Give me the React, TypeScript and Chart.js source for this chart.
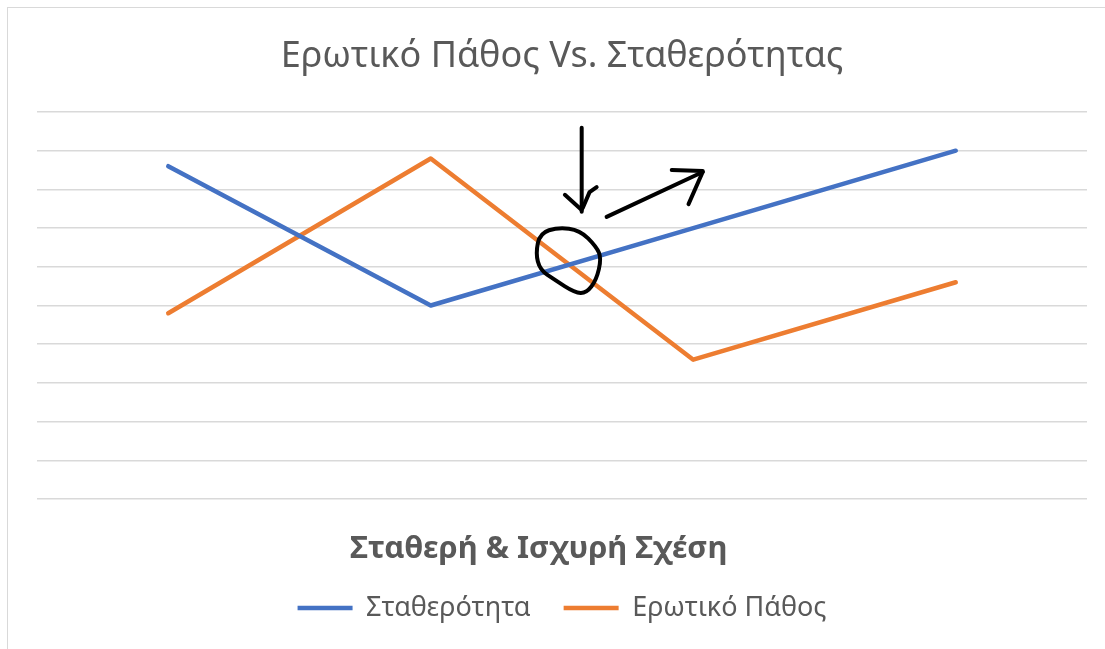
import React, { useEffect, useRef } from "react";
import { Chart, registerables } from "chart.js";

Chart.register(...registerables);

// ---- data ----
const categories = ["1", "2", "3", "4"];
const stabilityValues = [8.6, 5.0, 7.0, 9.0];
const passionValues = [4.8, 8.8, 3.6, 5.6];
const seriesNames = ["Σταθερότητα", "Ερωτικό Πάθος"];
const chartTitle = "Ερωτικό Πάθος Vs. Σταθερότητας";
const xAxisTitle = "Σταθερή & Ισχυρή Σχέση";
const yMin = 0;
const yMax = 10;
const yStep = 1;

// hand-drawn ink strokes, expressed as [category index, value] pairs
const downArrowShaft = [[1.575, 9.59], [1.575, 7.42]];
const downArrowLeft = [[1.511, 7.86], [1.575, 7.47]];
const downArrowRight = [[1.632, 8.06], [1.605, 7.93], [1.579, 7.52]];
const rightArrowShaft = [[1.67, 7.29], [2.036, 8.45]];
const rightArrowTop = [[1.918, 8.5], [2.036, 8.475]];
const rightArrowBottom = [[2.036, 8.45], [1.982, 7.62]];
const inkCircle = [
  [1.416, 6.87], [1.485, 7.02], [1.568, 6.95], [1.631, 6.52], [1.65, 6.22],
  [1.631, 5.66], [1.593, 5.32], [1.549, 5.33], [1.473, 5.66], [1.416, 5.92], [1.4, 6.35],
];

const FONT = "'Noto Sans', 'Open Sans', sans-serif";
const GREY = "#595959";

const inkPlugin = {
  id: "inkStrokes",
  afterDatasetsDraw(chart: any) {
    const { ctx, scales } = chart;
    const xs = scales.x;
    const ys = scales.y;
    const toPx = (p: number[]) => [xs.getPixelForValue(p[0]), ys.getPixelForValue(p[1])];
    ctx.save();
    ctx.strokeStyle = "#000000";
    ctx.lineWidth = 4;
    ctx.lineCap = "round";
    ctx.lineJoin = "round";
    const strokes = [downArrowShaft, downArrowLeft, downArrowRight, rightArrowShaft, rightArrowTop, rightArrowBottom];
    for (const s of strokes) {
      ctx.beginPath();
      s.forEach((p, k) => {
        const [px, py] = toPx(p);
        if (k === 0) ctx.moveTo(px, py);
        else ctx.lineTo(px, py);
      });
      ctx.stroke();
    }
    // smooth closed loop
    const pts = inkCircle.map(toPx);
    const n = pts.length;
    ctx.beginPath();
    const mid = (a: number[], b: number[]) => [(a[0] + b[0]) / 2, (a[1] + b[1]) / 2];
    const m0 = mid(pts[n - 1], pts[0]);
    ctx.moveTo(m0[0], m0[1]);
    for (let i = 0; i < n; i++) {
      const p = pts[i];
      const m = mid(p, pts[(i + 1) % n]);
      ctx.quadraticCurveTo(p[0], p[1], m[0], m[1]);
    }
    ctx.closePath();
    ctx.stroke();
    ctx.restore();
  },
};

export default function App() {
  const canvasRef = useRef<HTMLCanvasElement | null>(null);

  useEffect(() => {
    if (!canvasRef.current) return;
    const chart = new Chart(canvasRef.current, {
      type: "line",
      data: {
        labels: categories,
        datasets: [
          {
            label: seriesNames[0],
            data: stabilityValues,
            borderColor: "#4472C4",
            backgroundColor: "#4472C4",
            borderWidth: 4.5,
            borderCapStyle: "round",
            borderJoinStyle: "round",
            pointRadius: 0,
            tension: 0,
          },
          {
            label: seriesNames[1],
            data: passionValues,
            borderColor: "#ED7D31",
            backgroundColor: "#ED7D31",
            borderWidth: 4.5,
            borderCapStyle: "round",
            borderJoinStyle: "round",
            pointRadius: 0,
            tension: 0,
          },
        ],
      },
      options: {
        animation: false,
        responsive: false,
        layout: { padding: { left: 29, right: 18, top: 10, bottom: 17.5 } },
        plugins: {
          title: {
            display: true,
            text: chartTitle,
            color: GREY,
            font: { family: FONT, size: 36, weight: "normal" },
            padding: { top: 17.4, bottom: 33.4 },
          },
          legend: {
            display: true,
            position: "bottom",
            labels: {
              usePointStyle: true,
              pointStyle: "line",
              pointStyleWidth: 55,
              color: GREY,
              font: { family: FONT, size: 27 },
              padding: 33,
            },
          },
          tooltip: { enabled: false },
        },
        scales: {
          x: {
            type: "category",
            offset: true,
            grid: { display: false, drawTicks: false },
            border: { display: false },
            ticks: { display: false },
            title: {
              display: true,
              text: xAxisTitle + "\u2003\u2002",
              color: GREY,
              font: { family: FONT, size: 31, weight: "bold" },
              padding: { top: 31.4, bottom: -6.1 },
            },
          },
          y: {
            min: yMin,
            max: yMax,
            grid: { color: "#d9d9d9", lineWidth: 1.5, drawTicks: false },
            border: { display: false },
            ticks: { display: false, stepSize: yStep },
          },
        },
      },
      plugins: [inkPlugin],
    });
    return () => chart.destroy();
  }, []);

  return (
    <div
      style={{
        position: "fixed",
        left: 7,
        top: 7,
        width: 1097,
        height: 641,
        borderLeft: "1px solid #d9d9d9",
        borderTop: "1px solid #d9d9d9",
        background: "#ffffff",
      }}
    >
      <canvas ref={canvasRef} width={1097} height={641} style={{ display: "block" }} />
    </div>
  );
}
